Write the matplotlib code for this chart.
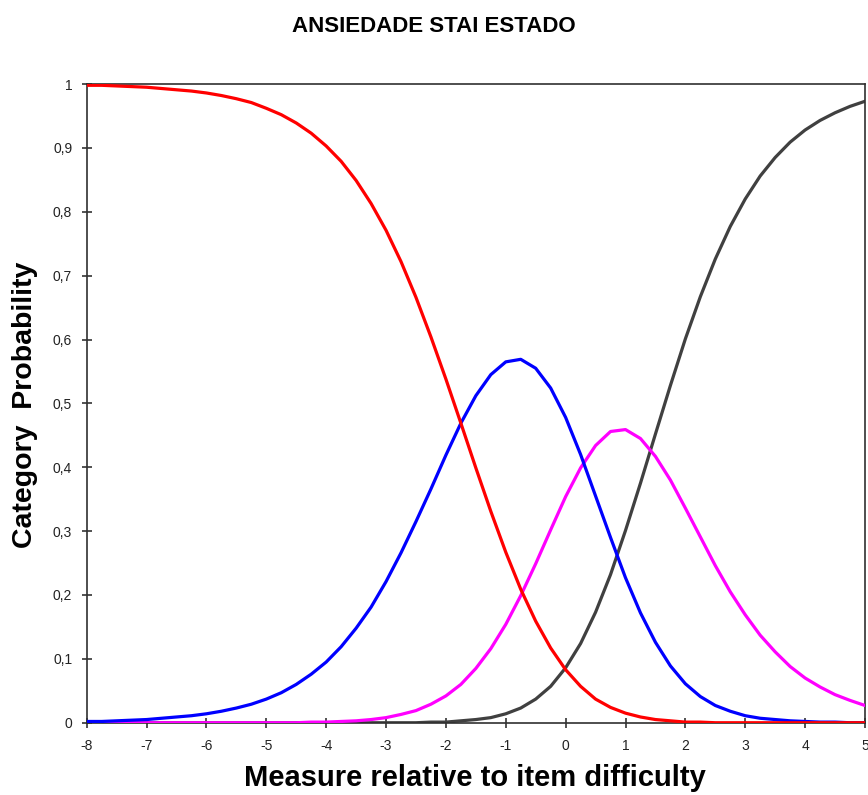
import numpy as np
import matplotlib
matplotlib.use("Agg")
import matplotlib.pyplot as plt

plt.rcParams['font.family'] = ['Liberation Sans', 'DejaVu Sans']

# measure grid (logits) and category probabilities read along it
measure = np.arange(-8, 5.001, 0.25)

cat0 = [0.998, 0.998, 0.997, 0.996, 0.995, 0.993, 0.991, 0.989, 0.986, 0.982,
        0.977, 0.971, 0.962, 0.952, 0.939, 0.923, 0.903, 0.879, 0.849, 0.813,
        0.771, 0.722, 0.666, 0.604, 0.538, 0.469, 0.399, 0.331, 0.267, 0.209,
        0.159, 0.117, 0.083, 0.057, 0.037, 0.024, 0.015, 0.009, 0.005, 0.003,
        0.001, 0.001, 0.000, 0.000, 0.000, 0.000, 0.000, 0.000, 0.000, 0.000,
        0.000, 0.000, 0.000]
cat1 = [0.002, 0.002, 0.003, 0.004, 0.005, 0.007, 0.009, 0.011, 0.014, 0.018,
        0.023, 0.029, 0.037, 0.047, 0.060, 0.076, 0.095, 0.119, 0.148, 0.181,
        0.221, 0.266, 0.315, 0.366, 0.419, 0.469, 0.512, 0.545, 0.565, 0.569,
        0.555, 0.524, 0.478, 0.420, 0.355, 0.290, 0.227, 0.172, 0.126, 0.089,
        0.061, 0.041, 0.027, 0.018, 0.011, 0.007, 0.005, 0.003, 0.002, 0.001,
        0.001, 0.000, 0.000]
cat2 = [0.000, 0.000, 0.000, 0.000, 0.000, 0.000, 0.000, 0.000, 0.000, 0.000,
        0.000, 0.000, 0.000, 0.000, 0.000, 0.001, 0.001, 0.002, 0.003, 0.005,
        0.008, 0.013, 0.019, 0.029, 0.042, 0.060, 0.085, 0.116, 0.154, 0.199,
        0.249, 0.302, 0.354, 0.399, 0.434, 0.456, 0.459, 0.445, 0.417, 0.380,
        0.336, 0.291, 0.246, 0.205, 0.169, 0.137, 0.111, 0.088, 0.070, 0.056,
        0.044, 0.035, 0.027]
cat3 = [0.000, 0.000, 0.000, 0.000, 0.000, 0.000, 0.000, 0.000, 0.000, 0.000,
        0.000, 0.000, 0.000, 0.000, 0.000, 0.000, 0.000, 0.000, 0.000, 0.000,
        0.000, 0.000, 0.000, 0.001, 0.001, 0.003, 0.005, 0.008, 0.014, 0.023,
        0.037, 0.057, 0.086, 0.124, 0.173, 0.232, 0.301, 0.375, 0.452, 0.528,
        0.601, 0.667, 0.726, 0.777, 0.820, 0.856, 0.885, 0.909, 0.928, 0.943,
        0.955, 0.965, 0.973]

x_ticks = [-8, -7, -6, -5, -4, -3, -2, -1, 0, 1, 2, 3, 4, 5]
x_labels = ['-8', '-7', '-6', '-5', '-4', '-3', '-2', '-1', '0', '1', '2', '3', '4', '5']
y_ticks = [0, 0.1, 0.2, 0.3, 0.4, 0.5, 0.6, 0.7, 0.8, 0.9, 1]
y_labels = ['0', '0,1', '0,2', '0,3', '0,4', '0,5', '0,6', '0,7', '0,8', '0,9', '1']

fig = plt.figure(figsize=(8.68, 7.95), dpi=100)
ax = fig.add_axes([0.0999, 0.0909, 0.8966, 0.8034])

# highest category drawn first so the lower ones sit on top
ax.plot(measure, cat3, color='#404040', lw=2.3, zorder=2)
ax.plot(measure, cat2, color='#ff00ff', lw=2.3, zorder=3)
ax.plot(measure, cat1, color='#0000ff', lw=2.3, zorder=4)
ax.plot(measure, cat0, color='#ff0000', lw=2.3, zorder=5)

ax.set_xlim(-8, 5)
ax.set_ylim(0, 1)
ax.set_xticks(x_ticks)
ax.set_xticklabels(x_labels)
ax.set_yticks(y_ticks)
ax.set_yticklabels(y_labels)
ax.tick_params(axis='both', direction='inout', length=7, width=1.1,
               labelsize=10, colors='#222222')
ax.tick_params(axis='x', pad=8)
ax.tick_params(axis='y', pad=7)

for side in ax.spines.values():
    side.set_linewidth(1.2)
    side.set_color('#303030')

fig.text(0.5, 0.967, 'ANSIEDADE STAI ESTADO', ha='center', va='center',
         fontsize=16, fontweight='bold')
fig.text(0.547, 0.021, 'Measure relative to item difficulty', ha='center',
         va='center', fontsize=21, fontweight='bold')
fig.text(0.029, 0.4906, 'Category  Probability', ha='center', va='center',
         rotation=90, fontsize=20.5, fontweight='bold')

fig.savefig('out.png', dpi=100)
